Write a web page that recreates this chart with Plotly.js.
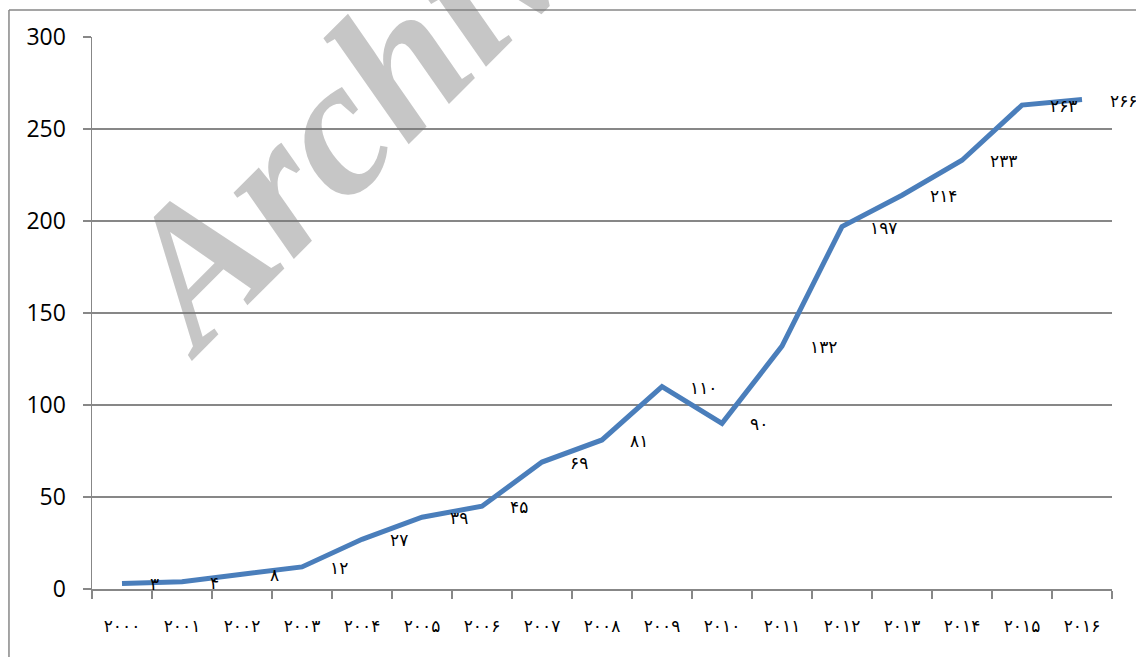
<!DOCTYPE html>
<html>
<head>
<meta charset="utf-8">
<script src="https://cdn.plot.ly/plotly-3.0.1.min.js"></script>
<style>
  html, body { margin: 0; padding: 0; background: #fff; }
  #chart { width: 1136px; height: 657px; }
</style>
</head>
<body>
<div id="chart"></div>
<script>
// Categories (years, Persian digits)
const yearLabels = ['۲۰۰۰','۲۰۰۱','۲۰۰۲','۲۰۰۳','۲۰۰۴','۲۰۰۵','۲۰۰۶','۲۰۰۷','۲۰۰۸','۲۰۰۹','۲۰۱۰','۲۰۱۱','۲۰۱۲','۲۰۱۳','۲۰۱۴','۲۰۱۵','۲۰۱۶'];
// Series values
const values = [3, 4, 8, 12, 27, 39, 45, 69, 81, 110, 90, 132, 197, 214, 233, 263, 266];
// Data labels (Persian digits)
const valueLabels = ['۳','۴','۸','۱۲','۲۷','۳۹','۴۵','۶۹','۸۱','۱۱۰','۹۰','۱۳۲','۱۹۷','۲۱۴','۲۳۳','۲۶۳','۲۶۶'];
// Y-axis ticks
const yTicks = [0, 50, 100, 150, 200, 250, 300];
const watermarkText = 'Archive';

const gridGrey = '#878787';
const arabicFont = '"DejaVu Sans", "Noto Sans", sans-serif';

const trace = {
  type: 'scatter',
  mode: 'lines',
  x: yearLabels,
  y: values,
  line: { color: '#4a7ebb', width: 5 },
  hoverinfo: 'x+y',
  cliponaxis: false
};

const labelAnnotations = yearLabels.map((yr, i) => ({
  x: yr, y: values[i], xref: 'x', yref: 'y',
  text: valueLabels[i],
  showarrow: false,
  xanchor: 'left', yanchor: 'middle',
  xshift: 26, yshift: -1,
  font: { family: arabicFont, size: 17, color: '#000' }
}));

const watermark = {
  xref: 'paper', yref: 'paper',
  x: 0.273, y: 0.906,
  xanchor: 'center', yanchor: 'middle',
  text: '<b><i>' + watermarkText + '</i></b>',
  showarrow: false,
  textangle: -45,
  font: { family: '"Liberation Serif", "Times New Roman", serif', size: 195, color: 'rgba(120,120,120,0.42)' }
};

const layout = {
  width: 1136, height: 657,
  margin: { l: 92, r: 24, t: 37, b: 68, pad: 0 },
  paper_bgcolor: '#ffffff',
  plot_bgcolor: 'rgba(0,0,0,0)',
  showlegend: false,
  xaxis: {
    type: 'category',
    range: [-0.5, yearLabels.length - 0.5],
    tickson: 'boundaries',
    ticks: 'outside', ticklen: 8, tickwidth: 1.5, tickcolor: gridGrey,
    showline: true, linecolor: gridGrey, linewidth: 1.5,
    showgrid: false, zeroline: false,
    ticklabelstandoff: 21,
    tickfont: { family: arabicFont, size: 17, color: '#000' },
    automargin: false, fixedrange: true
  },
  yaxis: {
    range: [0, 300],
    tickvals: yTicks,
    ticks: 'outside', ticklen: 8, tickwidth: 1.5, tickcolor: gridGrey,
    showline: true, linecolor: gridGrey, linewidth: 1.5,
    showgrid: true, gridcolor: gridGrey, gridwidth: 1.5,
    zeroline: false,
    ticklabelstandoff: 12,
    tickfont: { family: '"Open Sans", "Liberation Sans", sans-serif', size: 23, color: '#000' },
    automargin: false, fixedrange: true
  },
  annotations: [watermark].concat(labelAnnotations),
  shapes: [
    { type: 'line', xref: 'paper', yref: 'paper', x0: -0.0814, x1: -0.0814, y0: 1.0489, y1: -0.3,
      line: { color: gridGrey, width: 1.5 } },
    { type: 'line', xref: 'paper', yref: 'paper', x0: -0.0814, x1: 1.2, y0: 1.0489, y1: 1.0489,
      line: { color: gridGrey, width: 1.5 } }
  ]
};

Plotly.newPlot('chart', [trace], layout, { displayModeBar: false, staticPlot: true });
</script>
</body>
</html>
